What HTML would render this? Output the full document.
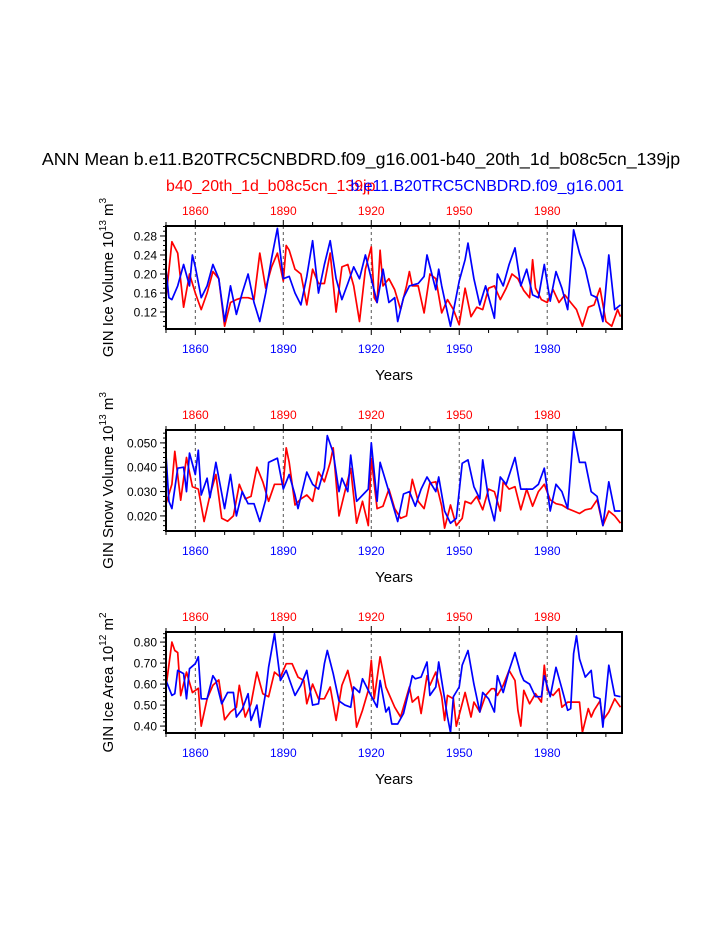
<!DOCTYPE html>
<html><head><meta charset="utf-8"><style>
body{margin:0;background:#fff;width:723px;height:935px;overflow:hidden}
svg{font-family:"Liberation Sans",sans-serif}
</style></head><body>
<svg id="chart" width="723" height="935" viewBox="0 0 723 935" xmlns="http://www.w3.org/2000/svg">
<text x="361" y="165" text-anchor="middle" font-size="17.8">ANN Mean b.e11.B20TRC5CNBDRD.f09_g16.001-b40_20th_1d_b08c5cn_139jp</text>
<text x="166" y="191" font-size="15.9" fill="#ff0000">b40_20th_1d_b08c5cn_139jp</text>
<text x="624" y="191" text-anchor="end" font-size="15.9" fill="#0000ff">b.e11.B20TRC5CNBDRD.f09_g16.001</text>
</svg>
<script>
// ---- data ----
const xTickYears = [1860, 1890, 1920, 1950, 1980];
const volRedYears = [1850,1852,1854,1856,1858,1860,1862,1864,1866,1868,1870,1872,1874,1876,1878,1880,1882,1884,1886,1888,1890,1891,1892,1894,1896,1898,1900,1902,1904,1906,1908,1910,1912,1914,1916,1918,1920,1921,1922,1923,1924,1926,1928,1930,1932,1933,1934,1936,1938,1940,1942,1944,1946,1948,1950,1952,1954,1956,1958,1960,1962,1964,1966,1968,1970,1972,1974,1975,1976,1978,1980,1982,1984,1986,1988,1990,1992,1994,1996,1998,2000,2002,2004,2005];
const volRed = [0.15,0.268,0.244,0.13,0.20,0.16,0.125,0.16,0.205,0.19,0.09,0.14,0.146,0.15,0.15,0.146,0.244,0.17,0.215,0.244,0.185,0.26,0.25,0.21,0.20,0.135,0.21,0.18,0.18,0.244,0.12,0.215,0.22,0.175,0.10,0.21,0.257,0.15,0.14,0.25,0.175,0.19,0.167,0.125,0.175,0.205,0.175,0.175,0.118,0.20,0.19,0.118,0.146,0.125,0.093,0.17,0.11,0.13,0.125,0.17,0.175,0.146,0.17,0.20,0.19,0.165,0.15,0.23,0.17,0.146,0.14,0.167,0.14,0.156,0.14,0.125,0.09,0.13,0.135,0.17,0.10,0.09,0.125,0.11];
const volBlueYears = [1850,1851,1852,1854,1856,1858,1859,1860,1862,1864,1866,1868,1870,1872,1874,1876,1878,1880,1882,1884,1886,1888,1890,1892,1894,1896,1898,1900,1902,1904,1906,1908,1910,1912,1914,1916,1918,1920,1922,1924,1926,1928,1929,1931,1933,1936,1938,1939,1942,1943,1944,1946,1947,1950,1952,1953,1955,1957,1959,1962,1963,1965,1967,1969,1971,1973,1975,1977,1979,1981,1983,1985,1987,1989,1991,1993,1995,1997,1999,2001,2003,2005];
const volBlue = [0.21,0.15,0.146,0.175,0.22,0.175,0.24,0.215,0.15,0.175,0.22,0.19,0.10,0.175,0.115,0.16,0.20,0.14,0.10,0.16,0.233,0.296,0.19,0.195,0.16,0.135,0.195,0.27,0.16,0.22,0.27,0.19,0.146,0.18,0.215,0.19,0.24,0.19,0.14,0.21,0.14,0.15,0.10,0.15,0.175,0.18,0.195,0.24,0.167,0.21,0.175,0.118,0.09,0.185,0.23,0.265,0.19,0.135,0.175,0.107,0.20,0.175,0.22,0.255,0.175,0.21,0.156,0.15,0.22,0.143,0.205,0.17,0.125,0.293,0.244,0.21,0.156,0.15,0.10,0.24,0.125,0.135];
const snowRedYears = [1850,1852,1853,1855,1857,1859,1861,1863,1865,1867,1869,1871,1873,1875,1877,1879,1881,1883,1885,1887,1890,1891,1892,1894,1896,1898,1900,1902,1904,1906,1907,1909,1911,1913,1915,1917,1919,1920,1922,1924,1926,1928,1930,1932,1934,1936,1938,1940,1942,1944,1945,1947,1949,1951,1952,1954,1956,1958,1960,1962,1964,1965,1967,1969,1971,1973,1975,1977,1979,1981,1983,1985,1987,1989,1991,1993,1995,1997,1999,2001,2003,2005];
const snowRed = [0.025,0.033,0.0465,0.0265,0.044,0.032,0.031,0.0177,0.0286,0.037,0.019,0.0178,0.020,0.033,0.027,0.028,0.040,0.034,0.026,0.033,0.033,0.048,0.042,0.0245,0.027,0.0286,0.026,0.038,0.034,0.042,0.048,0.020,0.030,0.0395,0.017,0.026,0.016,0.0437,0.023,0.024,0.031,0.023,0.019,0.020,0.035,0.026,0.023,0.0335,0.034,0.024,0.015,0.0245,0.016,0.019,0.026,0.025,0.028,0.0225,0.031,0.030,0.022,0.034,0.031,0.032,0.0225,0.031,0.024,0.030,0.033,0.0266,0.025,0.0245,0.023,0.022,0.021,0.0225,0.023,0.0266,0.016,0.022,0.020,0.017];
const snowBlueYears = [1850,1851,1852,1854,1856,1857,1858,1860,1861,1862,1864,1865,1867,1870,1872,1874,1876,1878,1880,1882,1884,1885,1888,1890,1892,1894,1895,1898,1900,1902,1904,1905,1907,1909,1910,1912,1913,1915,1919,1920,1922,1923,1927,1929,1931,1933,1935,1937,1939,1942,1943,1945,1947,1949,1951,1953,1955,1957,1958,1960,1962,1964,1966,1969,1971,1973,1975,1977,1979,1981,1983,1985,1987,1989,1991,1993,1995,1997,1999,2001,2003,2005];
const snowBlue = [0.045,0.026,0.023,0.0396,0.040,0.030,0.0458,0.037,0.047,0.0286,0.0355,0.0275,0.042,0.023,0.037,0.020,0.030,0.025,0.025,0.0177,0.0266,0.042,0.0437,0.031,0.037,0.0286,0.023,0.038,0.033,0.031,0.0396,0.053,0.046,0.030,0.0355,0.030,0.045,0.026,0.031,0.050,0.026,0.042,0.026,0.0177,0.029,0.030,0.024,0.031,0.036,0.030,0.036,0.022,0.017,0.019,0.0416,0.043,0.032,0.027,0.043,0.027,0.018,0.036,0.033,0.044,0.031,0.031,0.031,0.033,0.0396,0.022,0.033,0.030,0.023,0.0547,0.042,0.042,0.030,0.028,0.016,0.034,0.022,0.022];
const areaRedYears = [1850,1852,1853,1854,1855,1857,1859,1861,1862,1864,1866,1868,1870,1872,1874,1875,1877,1879,1881,1883,1885,1887,1889,1891,1893,1895,1897,1898,1900,1902,1904,1906,1908,1910,1912,1914,1915,1917,1919,1920,1921,1923,1925,1928,1930,1933,1934,1936,1937,1939,1940,1942,1944,1945,1946,1948,1949,1952,1954,1955,1957,1959,1961,1962,1963,1965,1967,1969,1970,1971,1972,1974,1976,1978,1979,1980,1982,1984,1985,1987,1990,1991,1992,1994,1995,1996,1998,1999,2001,2003,2005];
const areaRed = [0.585,0.80,0.76,0.75,0.545,0.657,0.56,0.58,0.40,0.53,0.594,0.62,0.43,0.467,0.49,0.594,0.443,0.506,0.657,0.554,0.54,0.657,0.633,0.697,0.697,0.633,0.617,0.506,0.60,0.53,0.53,0.586,0.427,0.594,0.665,0.54,0.395,0.475,0.57,0.713,0.53,0.73,0.586,0.49,0.443,0.586,0.514,0.54,0.46,0.64,0.594,0.657,0.54,0.427,0.546,0.53,0.40,0.56,0.443,0.514,0.467,0.546,0.578,0.578,0.546,0.594,0.665,0.617,0.475,0.40,0.57,0.506,0.554,0.514,0.69,0.57,0.546,0.578,0.49,0.514,0.514,0.514,0.37,0.483,0.443,0.475,0.52,0.427,0.467,0.53,0.49];
const areaBlueYears = [1850,1852,1853,1854,1856,1857,1858,1860,1861,1862,1864,1866,1867,1869,1871,1873,1874,1876,1878,1879,1881,1882,1884,1885,1887,1889,1891,1894,1896,1898,1900,1902,1904,1905,1907,1909,1911,1913,1914,1916,1917,1919,1922,1923,1925,1926,1927,1929,1931,1933,1934,1935,1937,1939,1940,1942,1943,1945,1946,1947,1948,1950,1951,1953,1955,1957,1958,1960,1962,1963,1965,1967,1969,1971,1972,1974,1976,1978,1979,1981,1983,1985,1987,1988,1989,1990,1991,1993,1995,1996,1998,1999,2001,2003,2005];
const areaBlue = [0.617,0.546,0.554,0.665,0.65,0.53,0.673,0.697,0.73,0.53,0.53,0.64,0.617,0.506,0.56,0.56,0.443,0.48,0.554,0.427,0.50,0.395,0.56,0.68,0.84,0.617,0.665,0.546,0.594,0.665,0.50,0.506,0.697,0.76,0.65,0.52,0.50,0.49,0.586,0.56,0.625,0.57,0.49,0.617,0.467,0.49,0.41,0.41,0.46,0.578,0.64,0.625,0.633,0.705,0.546,0.586,0.705,0.53,0.443,0.37,0.54,0.586,0.69,0.76,0.60,0.467,0.56,0.53,0.467,0.64,0.56,0.665,0.75,0.65,0.617,0.60,0.54,0.54,0.64,0.54,0.68,0.578,0.475,0.483,0.745,0.83,0.72,0.633,0.665,0.54,0.53,0.395,0.69,0.546,0.54];
const volTicks = [0.12, 0.16, 0.20, 0.24, 0.28];
const volTickLabels = ["0.12","0.16","0.20","0.24","0.28"];
const snowTicks = [0.020, 0.030, 0.040, 0.050];
const snowTickLabels = ["0.020","0.030","0.040","0.050"];
const areaTicks = [0.4, 0.5, 0.6, 0.7, 0.8];
const areaTickLabels = ["0.40","0.50","0.60","0.70","0.80"];

const NS = "http://www.w3.org/2000/svg";
const svg = document.getElementById("chart");
function mk(tag, attrs, parent) {
  const e = document.createElementNS(NS, tag);
  for (const k in attrs) e.setAttribute(k, attrs[k]);
  (parent || svg).appendChild(e);
  return e;
}
const X0 = 166, X1 = 622, YR0 = 1850, YR1 = 2005.5;
function xScale(y) { return X0 + (y - YR0) / (YR1 - YR0) * (X1 - X0); }

function panel(cfg) {
  const g = mk("g", {});
  
  
  const T = cfg.top, B = cfg.bottom;
  const yScale = v => B - (v - cfg.vmin) / (cfg.vmax - cfg.vmin) * (B - T);
  xTickYears.forEach(yr => {
    const l = mk("line", {x1: xScale(yr), x2: xScale(yr), y1: T, y2: B, stroke: "#555", "stroke-width": 1, "stroke-dasharray": "3,3"}, g);
    
    
  });
  [[cfg.redYears, cfg.red, "#ff0000", "red-series"], [cfg.blueYears, cfg.blue, "#0000ff", "blue-series"]].forEach(s => {
    const pts = s[0].map((yr, i) => xScale(yr).toFixed(1) + "," + yScale(s[1][i]).toFixed(1)).join(" ");
    const p = mk("polyline", {points: pts, fill: "none", stroke: s[2], "stroke-width": 1.7, "stroke-linejoin": "round"}, g);
    
    
  });
  const f = mk("rect", {x: X0, y: T, width: X1 - X0, height: B - T, fill: "none", stroke: "#000", "stroke-width": 2}, g);
  
  
  for (let yr = 1850; yr <= 2000; yr += 10) {
    const major = xTickYears.includes(yr);
    const len = major ? 6 : 4, x = xScale(yr);
    mk("line", {x1: x, x2: x, y1: T, y2: T - len, stroke: "#000", "stroke-width": 1}, g);
    mk("line", {x1: x, x2: x, y1: B, y2: B + len, stroke: "#000", "stroke-width": 1}, g);
  }
  xTickYears.forEach(yr => {
    const t1 = mk("text", {x: xScale(yr), y: T - 11, "text-anchor": "middle", "font-size": 12, fill: "#ff0000"}, g);
    t1.textContent = yr;
    
    
    const t2 = mk("text", {x: xScale(yr), y: B + 24, "text-anchor": "middle", "font-size": 12, fill: "#0000ff"}, g);
    t2.textContent = yr;
    
    
  });
  for (let v = cfg.minorStart; v <= cfg.vmax + 1e-9; v += cfg.minorStep) {
    const y = yScale(v);
    if (y < T - 0.5 || y > B + 0.5) continue;
    mk("line", {x1: X0, x2: X0 - 3, y1: y, y2: y, stroke: "#000", "stroke-width": 1}, g);
  }
  cfg.ticks.forEach((v, i) => {
    const y = yScale(v);
    mk("line", {x1: X0, x2: X0 - 6, y1: y, y2: y, stroke: "#000", "stroke-width": 1}, g);
    const t = mk("text", {x: X0 - 9, y: y + 4.5, "text-anchor": "end", "font-size": 12}, g);
    t.textContent = cfg.tickLabels[i];
    
    
  });
  const xt = mk("text", {x: (X0 + X1) / 2, y: B + 51, "text-anchor": "middle", "font-size": 15}, g);
  xt.textContent = "Years";
  
  
  const cy = (T + B) / 2;
  const yt = mk("text", {x: 0, y: 0, "text-anchor": "middle", "font-size": 15, transform: "translate(113," + cy + ") rotate(-90)"}, g);
  yt.innerHTML = cfg.ytitle;
  
  
}

panel({name: "ice-volume-panel", top: 226, bottom: 329, vmin: 0.0842, vmax: 0.301,
  red: volRed, redYears: volRedYears, blue: volBlue, blueYears: volBlueYears,
  ticks: volTicks, tickLabels: volTickLabels, minorStart: 0.09, minorStep: 0.01,
  ytitle: 'GIN Ice Volume 10<tspan dy="-7" font-size="10">13</tspan><tspan dy="7"> m</tspan><tspan dy="-7" font-size="10">3</tspan>'});
panel({name: "snow-volume-panel", top: 430, bottom: 531, vmin: 0.0138, vmax: 0.0553,
  red: snowRed, redYears: snowRedYears, blue: snowBlue, blueYears: snowBlueYears,
  ticks: snowTicks, tickLabels: snowTickLabels, minorStart: 0.014, minorStep: 0.002,
  ytitle: 'GIN Snow Volume 10<tspan dy="-7" font-size="10">13</tspan><tspan dy="7"> m</tspan><tspan dy="-7" font-size="10">3</tspan>'});
panel({name: "ice-area-panel", top: 632, bottom: 733, vmin: 0.367, vmax: 0.848,
  red: areaRed, redYears: areaRedYears, blue: areaBlue, blueYears: areaBlueYears,
  ticks: areaTicks, tickLabels: areaTickLabels, minorStart: 0.38, minorStep: 0.02,
  ytitle: 'GIN Ice Area 10<tspan dy="-7" font-size="10">12</tspan><tspan dy="7"> m</tspan><tspan dy="-7" font-size="10">2</tspan>'});
</script>
</body></html>
